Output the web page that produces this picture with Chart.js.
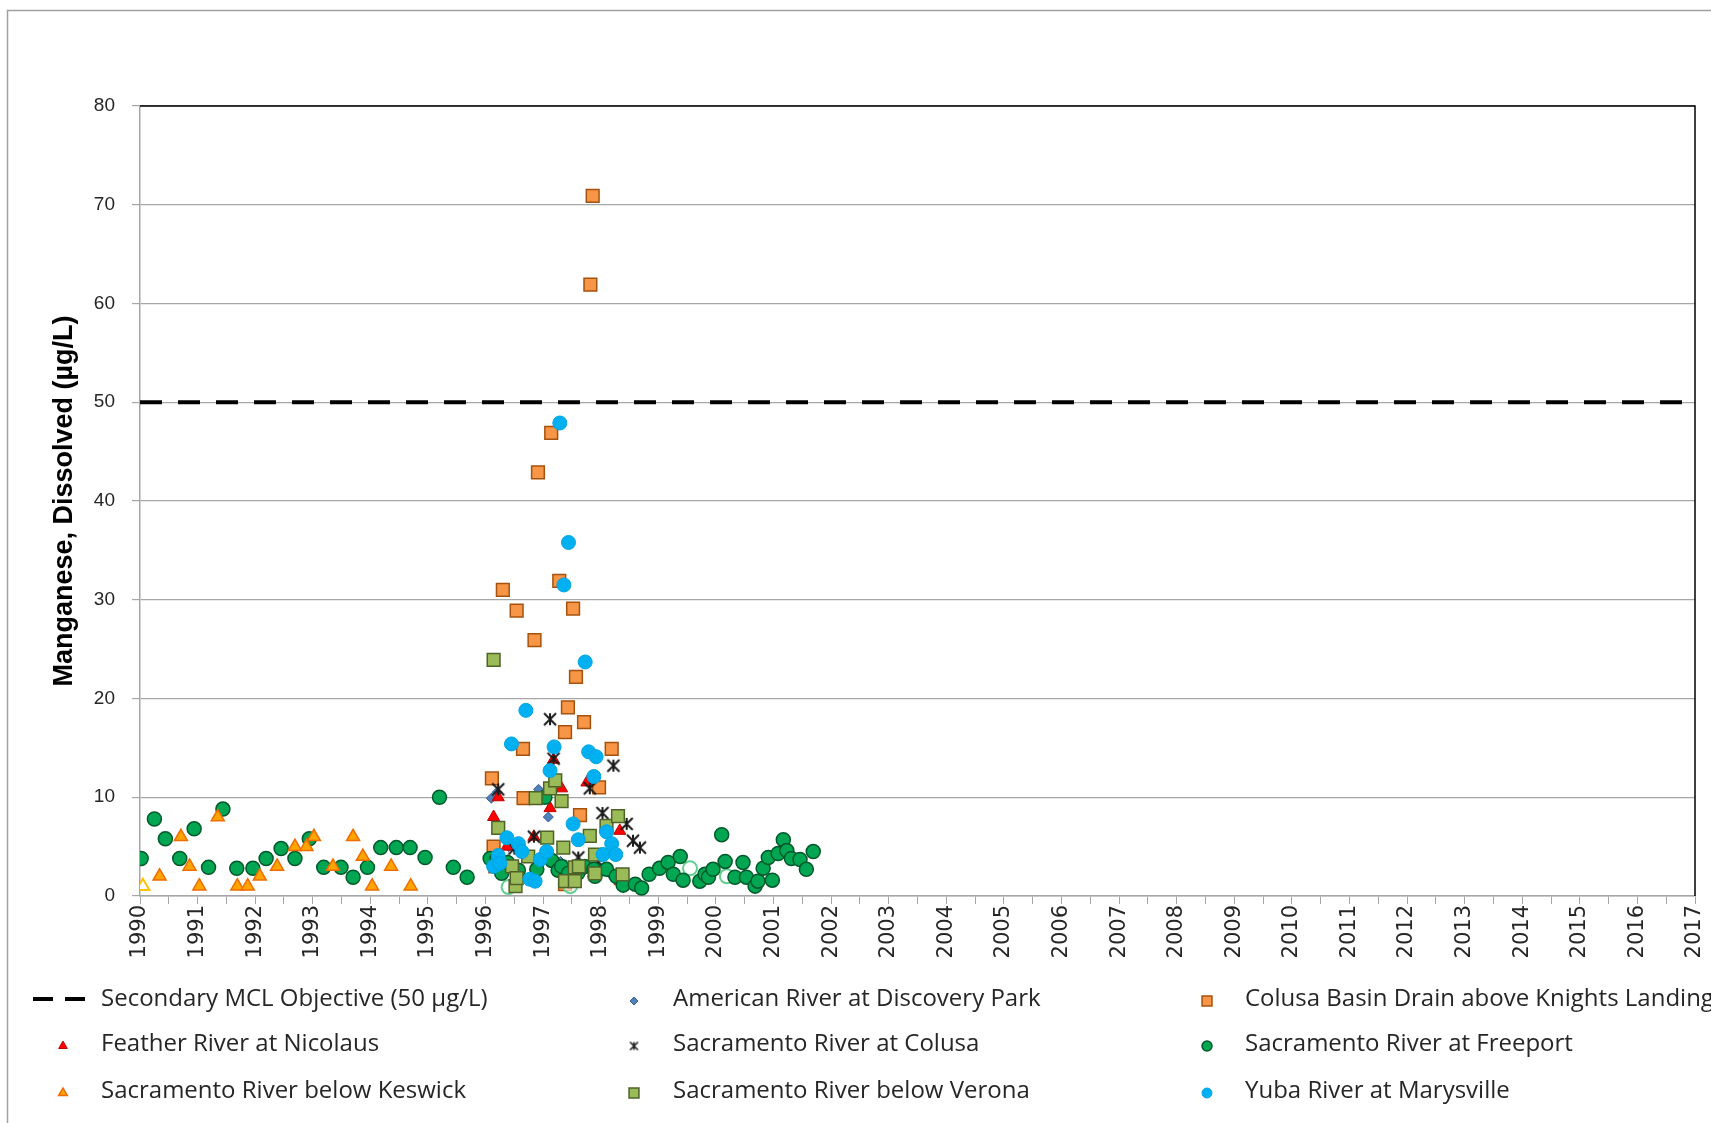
<!DOCTYPE html>
<html>
<head>
<meta charset="utf-8">
<title>Manganese, Dissolved</title>
<script src="https://cdn.jsdelivr.net/npm/chart.js@4.4.1/dist/chart.umd.min.js"></script>
<style>
  html, body { margin: 0; padding: 0; background: #fff; }
  #wrap { position: relative; width: 1711px; height: 1123px; }
</style>
</head>
<body>
<div id="wrap"><canvas id="chart"></canvas></div>
<script>
// objective line
var mclYears = [1990, 2017];
var mclValues = [50, 50];

// American River at Discovery Park
var americanYears = [1996.10, 1996.20, 1996.40, 1996.92, 1997.09, 1997.30, 1997.70, 1998.20];
var americanValues = [9.9, 10.5, 5.0, 10.8, 8.0, 3.5, 2.5, 2.0];

// Colusa Basin Drain above Knights Landing
var basinYears = [1996.11, 1996.14, 1996.17, 1996.30, 1996.54, 1996.65, 1996.66, 1996.85, 1996.91, 1997.14,
  1997.28, 1997.38, 1997.38, 1997.43, 1997.52, 1997.57, 1997.64, 1997.71, 1997.82, 1997.86,
  1997.97, 1998.19, 1998.35];
var basinValues = [11.9, 5.0, 3.0, 31.0, 28.9, 14.9, 9.9, 25.9, 42.9, 46.9,
  31.9, 16.6, 1.2, 19.1, 29.1, 22.2, 8.2, 17.6, 61.9, 70.9,
  11.0, 14.9, 1.8];

// Feather River at Nicolaus
var featherYears = [1996.14, 1996.22, 1996.37, 1996.84, 1997.12, 1997.18, 1997.32, 1997.40, 1997.76, 1998.31, 1998.33];
var featherValues = [8.0, 10.0, 5.0, 6.0, 8.9, 13.8, 10.9, 1.2, 11.5, 2.0, 6.6];

// Sacramento River at Colusa
var colusaYears = [1996.22, 1996.50, 1996.84, 1997.12, 1997.18, 1997.30, 1997.61, 1997.81, 1997.95, 1998.03,
  1998.22, 1998.45, 1998.56, 1998.68];
var colusaValues = [10.8, 4.8, 6.0, 17.9, 13.9, 3.0, 3.9, 10.9, 3.5, 8.4,
  13.2, 7.3, 5.6, 4.9];

// Sacramento River at Freeport
var freeportYears = [1990.02, 1990.25, 1990.44, 1990.69, 1990.94, 1991.19, 1991.44, 1991.68, 1991.96, 1992.19,
  1992.45, 1992.69, 1992.94, 1993.19, 1993.49, 1993.70, 1993.95, 1994.18, 1994.45, 1994.69,
  1994.95, 1995.20, 1995.44, 1995.68, 1996.08, 1996.20, 1996.28, 1996.38, 1996.57, 1996.89,
  1997.03, 1997.15, 1997.26, 1997.32, 1997.44, 1997.60, 1997.72, 1997.88, 1997.90, 1998.10,
  1998.27, 1998.39, 1998.60, 1998.71, 1998.84, 1999.02, 1999.17, 1999.26, 1999.38, 1999.43,
  1999.72, 1999.81, 1999.87, 1999.95, 2000.10, 2000.16, 2000.33, 2000.47, 2000.53, 2000.68,
  2000.73, 2000.82, 2000.91, 2000.98, 2001.08, 2001.17, 2001.23, 2001.31, 2001.46, 2001.57,
  2001.69];
var freeportValues = [3.8, 7.8, 5.8, 3.8, 6.8, 2.9, 8.8, 2.8, 2.8, 3.8,
  4.8, 3.8, 5.8, 2.9, 2.9, 1.9, 2.9, 4.9, 4.9, 4.9,
  3.9, 10.0, 2.9, 1.9, 3.8, 3.8, 2.3, 3.4, 2.6, 2.7,
  10.0, 3.6, 2.6, 3.0, 2.3, 2.3, 3.0, 2.7, 2.0, 2.7,
  2.0, 1.1, 1.2, 0.8, 2.2, 2.8, 3.4, 2.2, 4.0, 1.6,
  1.5, 2.2, 1.9, 2.7, 6.2, 3.5, 1.9, 3.4, 1.9, 1.0,
  1.5, 2.8, 3.9, 1.6, 4.3, 5.7, 4.6, 3.8, 3.7, 2.7,
  4.5];
// non-detects (hollow markers)
var freeportNdYears = [1996.40, 1997.47, 1999.55, 2000.19];
var freeportNdValues = [0.9, 1.0, 2.8, 2.0];

// Sacramento River below Keswick
var keswickYears = [1990.34, 1990.71, 1990.86, 1991.03, 1991.35, 1991.69, 1991.87, 1992.08, 1992.38, 1992.69,
  1992.89, 1993.02, 1993.35, 1993.70, 1993.87, 1994.03, 1994.36, 1994.70];
var keswickValues = [2, 6, 3, 1, 8, 1, 1, 2, 3, 5,
  5, 6, 3, 6, 4, 1, 3, 1];
var keswickNdYears = [1990.05];
var keswickNdValues = [1];

// Sacramento River below Verona
var veronaYears = [1996.14, 1996.22, 1996.46, 1996.52, 1996.54, 1996.74, 1996.87, 1997.07, 1997.12, 1997.21,
  1997.32, 1997.35, 1997.38, 1997.55, 1997.55, 1997.62, 1997.81, 1997.90, 1997.90, 1998.10,
  1998.30, 1998.38];
var veronaValues = [23.9, 6.9, 3.0, 1.0, 1.8, 4.0, 9.9, 5.9, 10.9, 11.7,
  9.6, 4.9, 1.5, 1.5, 2.9, 3.0, 6.1, 4.2, 2.3, 7.1,
  8.1, 2.2];

// Yuba River at Marysville
var yubaYears = [1996.14, 1996.22, 1996.25, 1996.37, 1996.45, 1996.57, 1996.63, 1996.70, 1996.77, 1996.86,
  1996.95, 1997.06, 1997.12, 1997.19, 1997.29, 1997.36, 1997.44, 1997.52, 1997.61, 1997.73,
  1997.79, 1997.88, 1997.92, 1998.04, 1998.10, 1998.19, 1998.26];
var yubaValues = [3.0, 4.1, 3.3, 5.9, 15.4, 5.3, 4.5, 18.8, 1.7, 1.5,
  3.7, 4.5, 12.7, 15.1, 47.9, 31.5, 35.8, 7.3, 5.7, 23.7,
  14.6, 12.1, 14.1, 4.2, 6.5, 5.3, 4.2];

// legend grid (3 columns x 3 rows under the plot)
var legendMarkX = [63, 634, 1207];
var legendTextX = [101, 673, 1245];
var legendRowY = [999, 1044, 1091];

function pts(xs, ys) {
  return xs.map(function (x, i) { return { x: x, y: ys[i] }; });
}

// excel style "star" marker: an X with a vertical bar
function starMarker(size, lw) {
  var c = document.createElement('canvas');
  c.width = size;
  c.height = size;
  var g = c.getContext('2d');
  var m = size / 2, r = size / 2 - lw;
  g.strokeStyle = '#1a1a1a';
  g.lineWidth = lw;
  g.beginPath();
  g.moveTo(m - r, m - r); g.lineTo(m + r, m + r);
  g.moveTo(m + r, m - r); g.lineTo(m - r, m + r);
  g.moveTo(m, m - r); g.lineTo(m, m + r);
  g.stroke();
  return c;
}
var starBig = starMarker(16, 2);
var starSmall = starMarker(11, 1.5);

var datasets = [
  {
    type: 'line', label: 'Secondary MCL Objective (50 µg/L)',
    data: pts(mclYears, mclValues), showLine: true,
    borderColor: '#000', borderWidth: 4, borderDash: [22, 16],
    pointRadius: 0, order: 0, legendLine: true
  },
  {
    label: 'American River at Discovery Park', data: pts(americanYears, americanValues),
    pointStyle: 'rectRot', pointRadius: 5, backgroundColor: '#4f81bd', borderColor: '#385d8a', borderWidth: 1,
    legendRadius: 4, order: 8
  },
  {
    label: 'Colusa Basin Drain above Knights Landing', data: pts(basinYears, basinValues),
    pointStyle: 'rect', pointRadius: 9, backgroundColor: '#f79646', borderColor: '#a5520f', borderWidth: 1.5,
    legendRadius: 7, order: 7
  },
  {
    label: 'Feather River at Nicolaus', data: pts(featherYears, featherValues),
    pointStyle: 'triangle', pointRadius: 7, backgroundColor: '#ff0000', borderColor: '#c00000', borderWidth: 1,
    legendRadius: 5, order: 6
  },
  {
    label: 'Sacramento River at Colusa', data: pts(colusaYears, colusaValues),
    pointStyle: starBig, pointRadius: 8, backgroundColor: '#1a1a1a', borderColor: '#1a1a1a',
    legendStyle: starSmall, order: 5
  },
  {
    label: 'Sacramento River at Freeport', data: pts(freeportYears, freeportValues),
    pointStyle: 'circle', pointRadius: 7, backgroundColor: '#00a651', borderColor: '#00592a', borderWidth: 1.5,
    legendRadius: 5, order: 4
  },
  {
    label: 'Sacramento River below Keswick', data: pts(keswickYears, keswickValues),
    pointStyle: 'triangle', pointRadius: 7.5, backgroundColor: '#ffa500', borderColor: '#f06c00', borderWidth: 1.5,
    legendRadius: 5, order: 3
  },
  {
    label: 'Sacramento River below Verona', data: pts(veronaYears, veronaValues),
    pointStyle: 'rect', pointRadius: 9, backgroundColor: '#9bbb59', borderColor: '#4f6228', borderWidth: 1.5,
    legendRadius: 7, order: 2
  },
  {
    label: 'Yuba River at Marysville', data: pts(yubaYears, yubaValues),
    pointStyle: 'circle', pointRadius: 7, backgroundColor: '#00b0f0', borderColor: '#00a4e4', borderWidth: 1,
    legendRadius: 5, order: 1
  },
  {
    label: 'Freeport non-detect', data: pts(freeportNdYears, freeportNdValues), noLegend: true,
    pointStyle: 'circle', pointRadius: 7, backgroundColor: 'rgba(255,255,255,0.6)', borderColor: '#5fd08e', borderWidth: 2,
    order: 4
  },
  {
    label: 'Keswick non-detect', data: pts(keswickNdYears, keswickNdValues), noLegend: true,
    pointStyle: 'triangle', pointRadius: 7.5, backgroundColor: '#ffffff', borderColor: '#ffc000', borderWidth: 2,
    order: 3
  }
];

// outer frame + black top/right plot border
var frame = {
  id: 'frame',
  beforeDraw: function (chart) {
    var ctx = chart.ctx;
    ctx.save();
    ctx.strokeStyle = '#a0a0a0';
    ctx.lineWidth = 1.5;
    ctx.strokeRect(7.5, 10.5, 1740, 1140);
    ctx.restore();
  },
  beforeDatasetsDraw: function (chart) {
    var a = chart.chartArea, ctx = chart.ctx;
    ctx.save();
    ctx.strokeStyle = '#000';
    ctx.lineWidth = 1.5;
    ctx.beginPath();
    ctx.moveTo(a.left, a.top);
    ctx.lineTo(a.right, a.top);
    ctx.lineTo(a.right, a.bottom);
    ctx.stroke();
    ctx.restore();
  }
};

// legend laid out as a fixed 3 x 3 grid
var gridLegend = {
  id: 'gridLegend',
  afterDraw: function (chart) {
    var ctx = chart.ctx;
    var k = 0;
    ctx.save();
    chart.data.datasets.forEach(function (ds) {
      if (ds.noLegend) return;
      var col = k % 3, row = Math.floor(k / 3);
      var y = legendRowY[row];
      k++;
      if (ds.legendLine) {
        ctx.save();
        ctx.strokeStyle = ds.borderColor;
        ctx.lineWidth = 4;
        ctx.setLineDash([20, 12]);
        ctx.beginPath();
        ctx.moveTo(legendMarkX[col] - 30, y);
        ctx.lineTo(legendMarkX[col] + 24, y);
        ctx.stroke();
        ctx.restore();
      } else {
        ctx.fillStyle = ds.backgroundColor;
        ctx.strokeStyle = ds.borderColor;
        ctx.lineWidth = ds.borderWidth || 1;
        Chart.helpers.drawPoint(ctx, {
          pointStyle: ds.legendStyle || ds.pointStyle,
          radius: ds.legendRadius || 5,
          rotation: 0,
          borderWidth: ds.borderWidth || 1
        }, legendMarkX[col], y + 2);
      }
      ctx.fillStyle = '#262626';
      ctx.font = '24px "Open Sans"';
      ctx.textAlign = 'left';
      ctx.textBaseline = 'middle';
      ctx.fillText(ds.label, legendTextX[col], y);
    });
    ctx.restore();
  }
};

Chart.defaults.font.family = '"Liberation Sans", Arial, sans-serif';
Chart.defaults.color = '#262626';

new Chart(document.getElementById('chart'), {
  type: 'scatter',
  data: { datasets: datasets },
  options: {
    responsive: true,
    maintainAspectRatio: false,
    animation: false,
    layout: { padding: { left: 0, right: 16, top: 106, bottom: 157 } },
    plugins: {
      legend: { display: false },
      tooltip: { enabled: false }
    },
    scales: {
      x: {
        type: 'linear',
        min: 1990,
        max: 2017,
        afterFit: function (s) {
          s.height = 70;
          s.paddingLeft = 0;
          s.paddingRight = 0;
        },
        grid: { drawOnChartArea: false, color: '#a6a6a6', tickLength: 8 },
        border: { color: '#a6a6a6', width: 1.5 },
        ticks: {
          stepSize: 0.5,
          autoSkip: false,
          minRotation: 90,
          maxRotation: 90,
          padding: 1,
          color: '#262626',
          font: { family: '"DejaVu Sans"', size: 21 },
          callback: function (v) { return Number.isInteger(v) ? String(v) : ''; }
        }
      },
      y: {
        min: 0,
        max: 80,
        afterFit: function (s) { s.width = 140; },
        grid: { color: '#a6a6a6', lineWidth: 1.2, tickLength: 8 },
        border: { color: '#a6a6a6', width: 1.5 },
        ticks: {
          stepSize: 10,
          padding: 17,
          color: '#262626',
          font: { size: 19 }
        },
        title: {
          display: true,
          text: 'Manganese, Dissolved (µg/L)',
          color: '#000',
          font: { size: 27, weight: 'bold' },
          padding: { top: 48, bottom: 0 }
        }
      }
    }
  },
  plugins: [frame, gridLegend]
});
</script>
</body>
</html>
